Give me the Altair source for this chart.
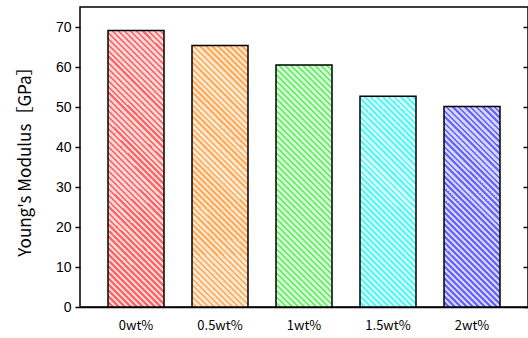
import altair as alt
import pandas as pd

# Young's modulus by filler content
categories = ["0wt%", "0.5wt%", "1wt%", "1.5wt%", "2wt%"]
modulus = [69.1, 65.4, 60.5, 52.7, 50.1]
y_ticks = [0, 10, 20, 30, 40, 50, 60, 70]

# hatch colours: stripe and background for each bar
stripe_colors = ["#ff6464", "#ffab5c", "#5ef05e", "#5cf6f6", "#6464ff"]
back_colors = ["#ffd2d2", "#ffe6cc", "#d2ffd2", "#d2ffff", "#d2d2ff"]

PLOT_W, PLOT_H = 448, 300
Y_MAX = 75
BAR_W = 56
HATCH_PERIOD = 6.0   # horizontal distance between stripes, px
DARK_SHARE = 0.38

df = pd.DataFrame({"category": categories, "modulus": modulus})


def hatch(value, stripe, back):
    """Diagonal hatch as a hard-stop linear gradient (bounding-box units)."""
    w = BAR_W
    h = value * PLOT_H / Y_MAX
    s = (w + h) / (w * w + h * h)
    x2 = s * w
    y2 = 1 - s * h
    n = (w + h) / HATCH_PERIOD
    stops = []
    k = 0
    while k / n < 1:
        a = k / n
        b = min((k + 1 - DARK_SHARE) / n, 1)
        c = min((k + 1) / n, 1)
        stops += [
            alt.GradientStop(offset=a, color=back),
            alt.GradientStop(offset=b, color=back),
            alt.GradientStop(offset=b, color=stripe),
            alt.GradientStop(offset=c, color=stripe),
        ]
        k += 1
    return alt.LinearGradient(
        gradient="linear", stops=stops, x1=0, y1=1, x2=x2, y2=y2
    )


x_enc = alt.X(
    "category:N",
    sort=categories,
    scale=alt.Scale(paddingInner=1 / 3, paddingOuter=1 / 3),
    axis=alt.Axis(
        title=None,
        labelAngle=0,
        ticks=False,
        domainColor="black",
        domainWidth=1.5,
        labelFont="Noto Sans CJK JP",
        labelFontSize=13,
        labelColor="black",
        labelPadding=12,
    ),
)
y_scale = alt.Scale(domain=[0, Y_MAX], nice=False)

base = alt.Chart(df)

bar_layers = []
for cat, val, sc, bc in zip(categories, modulus, stripe_colors, back_colors):
    bar_layers.append(
        base.transform_filter(alt.datum.category == cat)
        .mark_bar(fill=hatch(val, sc, bc), stroke="black", strokeWidth=1.5)
        .encode(
            x=x_enc,
            y=alt.Y(
                "modulus:Q",
                scale=y_scale,
                axis=alt.Axis(
                    title="Young's Modulus［GPa］",
                    values=y_ticks,
                    grid=False,
                    domain=False,
                    tickColor="black",
                    tickSize=5,
                    tickWidth=1.5,
                    labelFont="Liberation Sans",
                    labelFontSize=14,
                    labelColor="black",
                    labelPadding=4,
                    titleFont="Noto Sans CJK JP",
                    titleFontSize=17,
                    titleFontWeight="normal",
                    titleColor="black",
                    titlePadding=21,
                ),
            ),
        )
    )

bars = alt.layer(*bar_layers)

# mirrored ticks on the right side of the frame
right_ticks = base.mark_point(opacity=0).encode(
    x=alt.X("category:N", sort=categories),
    y=alt.Y(
        "modulus:Q",
        scale=y_scale,
        axis=alt.Axis(
            orient="right",
            title=None,
            values=y_ticks,
            labels=False,
            grid=False,
            domain=False,
            tickColor="black",
            tickSize=5,
            tickWidth=1.5,
            offset=-5,
        ),
    ),
)

chart = (
    alt.layer(bars, right_ticks)
    .resolve_scale(y="independent")
    .properties(
        width=PLOT_W,
        height=PLOT_H,
        autosize=alt.AutoSizeParams(type="none"),
        padding={"left": 80, "top": 7, "right": 0, "bottom": 31},
        background="white",
    )
    .configure_view(stroke="black", strokeWidth=1.5)
)

chart.save("out.html", embed_options={"renderer": "svg", "actions": False})
